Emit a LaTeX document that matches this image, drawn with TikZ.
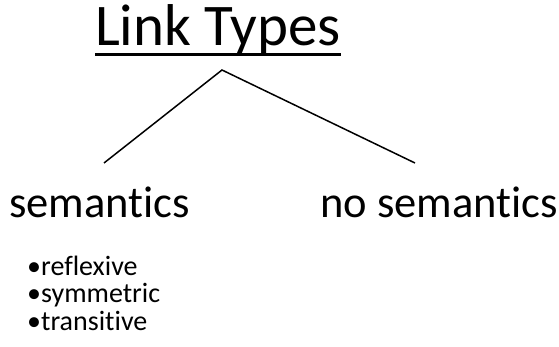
\documentclass[tikz,border=0pt]{standalone}
\usepackage{fontspec}
\setmainfont{Carlito}[Ligatures=NoCommon]
\usetikzlibrary{positioning,calc}
\tikzset{
  headtxt/.style={inner sep=0pt, anchor=base west, font=\fontsize{59}{62}\selectfont},
  cattxt/.style={inner sep=0pt, anchor=base west, font=\fontsize{44.5}{48}\selectfont},
  itemtxt/.style={inner sep=0pt, anchor=base west, font=\fontsize{28}{30}\selectfont},
  branch/.style={line width=1.5pt, black},
}
\begin{document}
\begin{tikzpicture}[x=1pt, y=-1pt]
  \useasboundingbox (0,0) rectangle (559,347);
  % --- heading
  \node[headtxt] (title) at (95,46) {Link Types};
  \draw[line width=3pt] ($(title.base west)+(0,9)$) -- ($(title.base east)+(0,9)$);
  % --- the two kinds
  \node[cattxt] (sem) at (9,218) {semantics};
  \node[cattxt] (nosem) at (320,218) {no semantics};
  % --- tree
  \coordinate (apex) at (222,70);
  \coordinate (semtop) at (104,163);
  \coordinate (nosemtop) at (415,163);
  \draw[branch] (semtop) -- (apex) -- (nosemtop);
  % --- properties
  \foreach \t/\yy [count=\k] in {reflexive/275, symmetric/302, transitive/330}{
    \node[itemtxt] (prop\k) at (27,\yy) {•\t};}
\end{tikzpicture}
\end{document}
